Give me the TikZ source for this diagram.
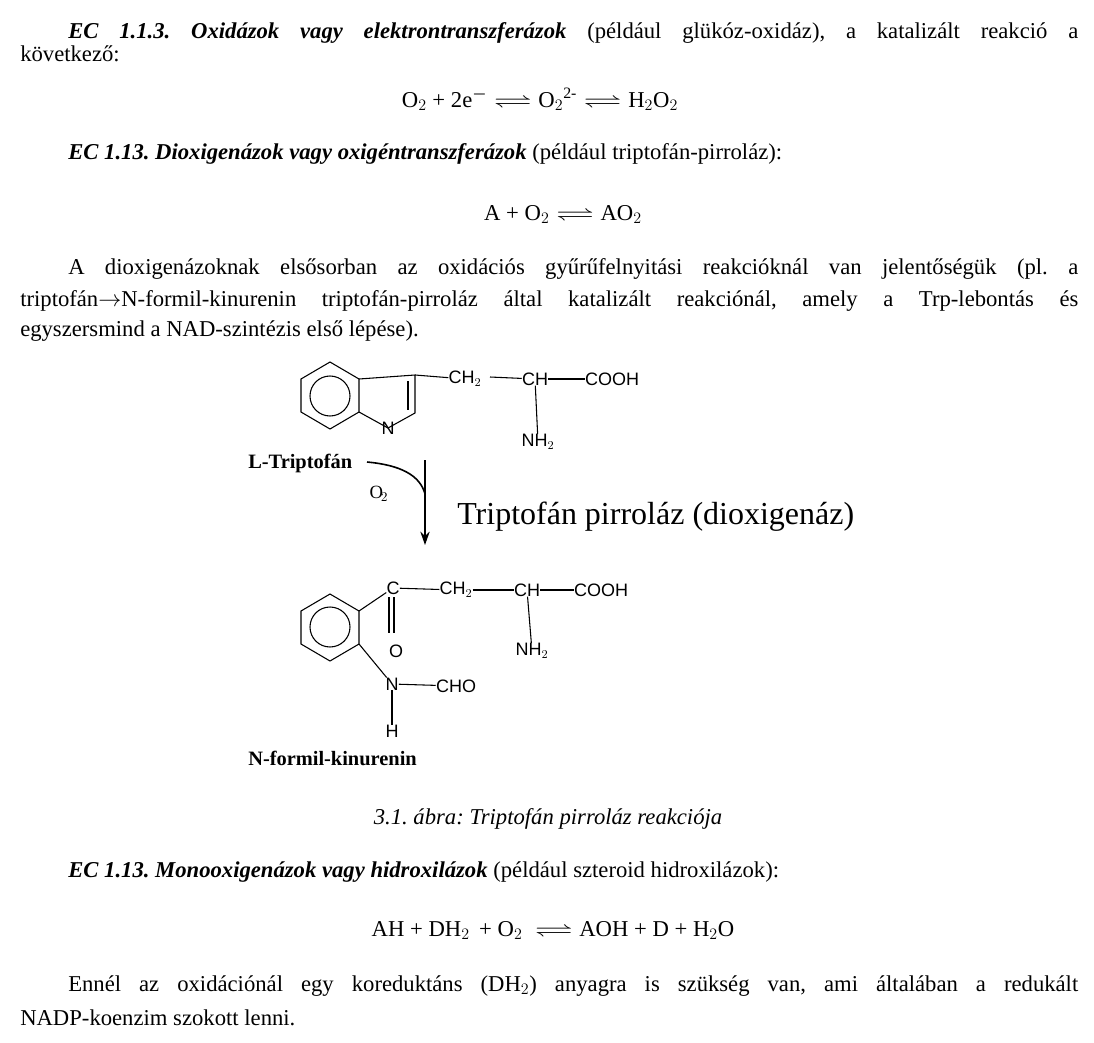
\documentclass[tikz,border=0pt]{standalone}
\usepackage{amsmath,amssymb}
\usepackage{fontspec}
\setmainfont{Liberation Serif}
\setsansfont{Liberation Sans}
\usetikzlibrary{positioning,arrows.meta,calc}
\frenchspacing
\newcommand{\jl}[2]{\hbox to #1{#2}}
\newcommand{\eqh}{\;\scalebox{1.7}[1]{$\rightleftharpoons$}\;}
\tikzset{
  txt/.style={anchor=base west,inner sep=0pt,font=\fontsize{17}{20}\selectfont},
  eqn/.style={anchor=base,inner sep=0pt,font=\fontsize{17}{20}\selectfont},
  chem/.style={inner sep=0pt,font=\sffamily\fontsize{13.5}{16}\selectfont},
  bond/.style={line width=0.8pt},
  molname/.style={inner sep=0pt,anchor=base west,font=\bfseries\fontsize{15.3}{18}\selectfont}
}
\begin{document}
\begin{tikzpicture}[x=0.75pt,y=-0.75pt]
\useasboundingbox (0,0) rectangle (1094,1042);
% Text above
\node[txt] (l1) at (68,38) {\jl{757.5pt}{\textbf{\textit{EC 1.1.3. Oxidázok vagy elektrontranszferázok}} (például glükóz-oxidáz), a katalizált reakció a}};
\node[txt] (l2) at (20,61) {következő:};
\node[eqn] (eq1) at (540,107) {O$_2$ + 2e$^{\boldsymbol{-}}$\eqh O$_2$$^{\text{2-}}$\eqh H$_2$O$_2$};
\node[txt] (l3) at (68,159) {\textbf{\textit{EC 1.13. Dioxigenázok vagy oxigéntranszferázok}} (például triptofán-pirroláz):};
\node[eqn] (eq2) at (563,220) {A + O$_2$\eqh AO$_2$};
\node[txt] (p1) at (68,274) {\jl{757.5pt}{A dioxigenázoknak elsősorban az oxidációs gyűrűfelnyitási reakcióknál van jelentőségük (pl. a}};
\node[txt] (p2) at (20,306) {\jl{793.5pt}{triptofán$\rightarrow$N-formil-kinurenin triptofán-pirroláz által katalizált reakciónál, amely a Trp-lebontás és}};
\node[txt] (p3) at (20,336) {egyszersmind a NAD-szintézis első lépése).};

% L-Triptofan
\draw[bond] (330,362) -- (359,379) -- (359,412) -- (330,429) -- (301,412) -- (301,379) -- cycle;
\draw[bond] (330,396) circle (20);
\draw[bond] (359,379) -- (415,375) -- (415,413) -- (388,428) -- (359,412);
\draw[bond] (408,381) -- (408,410);
\node[chem] (n1) at (388,428) {N};
\node[chem] (ch2a) at (465,379) {CH$_2$};
\node[chem] (cha) at (535,379) {CH};
\node[chem] (cooha) at (612,379) {COOH};
\node[chem] (nh2a) at (538,442) {NH$_2$};
\draw[bond] (415,375) -- (ch2a);
\draw[bond] (490,377) -- (cha);
\draw[bond] (cha) -- (cooha);
\draw[bond] (cha) -- (nh2a);
\node[molname] (trp) at (248,468) {L-Triptofán};

% reaction
\coordinate (ca) at (367,462);
\coordinate (cb) at (425,494);
\draw[line width=1.2pt] (ca) .. controls (400,465) and (420,475) .. (cb);
\draw[line width=1.4pt,-{Stealth[length=10pt,width=7pt]}] (425,460) -- (425,545);
\node[inner sep=0pt,font=\fontsize{14}{16}\selectfont] (o2) at (379,494) {O$_{\!2}$};
\node[anchor=west,inner sep=0pt,font=\fontsize{24}{28}\selectfont] (enz) at (457,517) {Triptofán pirroláz (dioxigenáz)};

% N-formil-kinurenin
\draw[bond] (330,594) -- (359,611) -- (359,644) -- (330,661) -- (301,644) -- (301,611) -- cycle;
\draw[bond] (330,627) circle (20);
\node[chem] (c1) at (393,588) {C};
\node[chem] (ob) at (396,651) {O};
\node[chem] (ch2b) at (456,590) {CH$_2$};
\node[chem] (chb) at (527,590) {CH};
\node[chem] (coohb) at (601,590) {COOH};
\node[chem] (nh2b) at (532,651) {NH$_2$};
\node[chem] (nb) at (392,684) {N};
\node[chem] (cho) at (456,686) {CHO};
\node[chem] (hb) at (392,731) {H};
\draw[bond] (359,611) -- (c1);
\draw[bond] (389,597) -- (389,633) (394,597) -- (394,633);
\draw[bond] (c1) -- (ch2b);
\draw[bond] (ch2b) -- (chb);
\draw[bond] (chb) -- (coohb);
\draw[bond] (chb) -- (nh2b);
\draw[bond] (359,644) -- (nb);
\draw[bond] (nb) -- (cho);
\draw[bond] (nb) -- (hb);
\node[molname] (kyn) at (248,765) {N-formil-kinurenin};

% caption and text below
\node[eqn,font=\itshape\fontsize{17}{20}\selectfont] (cap) at (548,824) {3.1. ábra: Triptofán pirroláz reakciója};
\node[txt] (l4) at (68,877) {\textbf{\textit{EC 1.13. Monooxigenázok vagy hidroxilázok}} (például szteroid hidroxilázok):};
\node[eqn] (eq3) at (553,936) {AH + DH$_2$\, + O$_2$ \eqh AOH + D + H$_2$O};
\node[txt] (p4) at (68,991) {\jl{757.5pt}{Ennél az oxidációnál egy koreduktáns (DH$_2$) anyagra is szükség van, ami általában a redukált}};
\node[txt] (p5) at (20,1025) {NADP-koenzim szokott lenni.};
\end{tikzpicture}
\end{document}
